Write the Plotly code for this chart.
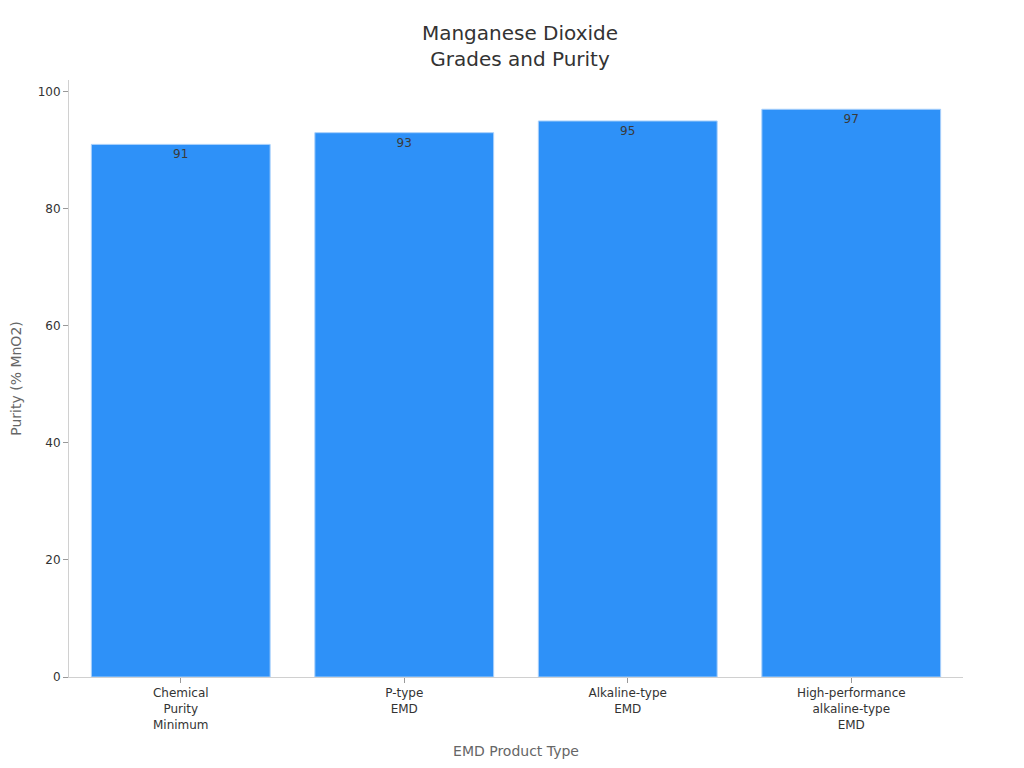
import plotly.graph_objects as go

categories = ['Chemical<br>Purity<br>Minimum', 'P-type<br>EMD', 'Alkaline-type<br>EMD',
              'High-performance<br>alkaline-type<br>EMD']
purity = [91, 93, 95, 97]

fig = go.Figure(go.Bar(
    x=categories,
    y=purity,
    text=purity,
    textposition='inside',
    insidetextanchor='end',
    textfont=dict(color='#3a3a3a', size=12),
    marker=dict(color='#2e91f8', line=dict(color='#a9d0fb', width=1)),
))

# page body adds an 8px offset, so margins are shifted to compensate
fig.update_layout(
    width=1024,
    height=768,
    font_family="DejaVu Sans",
    paper_bgcolor='white',
    plot_bgcolor='white',
    title=dict(text='Manganese Dioxide<br>Grades and Purity', x=0.5, xanchor='center',
               y=0.958, yanchor='top', font=dict(size=20, color='#333333')),
    margin=dict(l=61, r=69, t=72, b=99),
    bargap=0.2,
    showlegend=False,
)
fig.update_xaxes(
    title=dict(text='EMD Product Type', font=dict(size=14, color='#666666')),
    tickfont=dict(size=12, color='#333333'),
    showline=True, linecolor='#d0d0d0', ticks='outside', tickcolor='#999999', ticklen=5,
    automargin=False,
)
fig.update_yaxes(
    title=dict(text='Purity (% MnO2)', font=dict(size=14, color='#666666'), standoff=28),
    tickfont=dict(size=12, color='#333333'),
    range=[0, 102], showgrid=False, zeroline=False,
    showline=True, linecolor='#d0d0d0', ticks='outside', tickcolor='#999999', ticklen=5,
    dtick=20, automargin=False,
)

fig.write_html("out.html")
